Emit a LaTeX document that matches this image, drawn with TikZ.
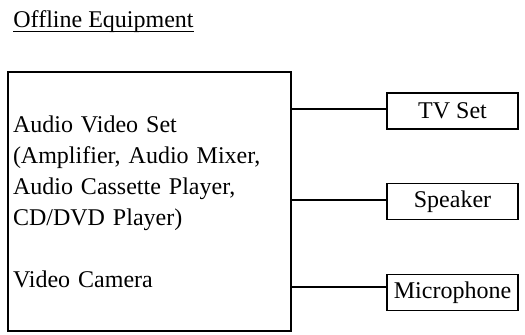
\documentclass[tikz,border=0pt]{standalone}
\usepackage{fontspec}
\setmainfont{Liberation Serif}
\begin{document}
\begin{tikzpicture}[x=0.5pt,y=-0.5pt,
  every node/.style={font=\fontsize{12}{15.5}\selectfont},
  bigbox/.style={draw,line width=0.6pt,minimum width=141.5pt,minimum height=129.5pt,
    text width=136.5pt,inner xsep=2.5pt,inner ysep=0pt,align=left},
  smallbox/.style={draw,line width=0.6pt,minimum width=65.5pt,minimum height=18pt,inner sep=0pt},
  link/.style={line width=0.6pt}]
\useasboundingbox (0,0) rectangle (525,334);
\node[anchor=base west,inner sep=0pt] (title) at (13,27) {Offline Equipment};
\draw[line width=0.5pt] ([yshift=-2pt]title.base west) -- ([yshift=-2pt]title.base east);
\node[bigbox] (av) at (149.5,201.5) {Audio Video Set\\(Amplifier, Audio Mixer,\\Audio Cassette Player,\\CD/DVD Player)\\\mbox{}\\Video Camera};
\node[smallbox] (tv) at (452.5,111) {TV Set};
\node[smallbox] (sp) at (452.5,201.5) {Speaker};
\node[smallbox] (mic) at (452.5,292.5) {Microphone};
\coordinate (c1) at (0,109);
\coordinate (c2) at (0,200);
\coordinate (c3) at (0,287);
\draw[link] (av.east |- c1) -- (tv.west |- c1);
\draw[link] (av.east |- c2) -- (sp.west |- c2);
\draw[link] (av.east |- c3) -- (mic.west |- c3);
\end{tikzpicture}
\end{document}
